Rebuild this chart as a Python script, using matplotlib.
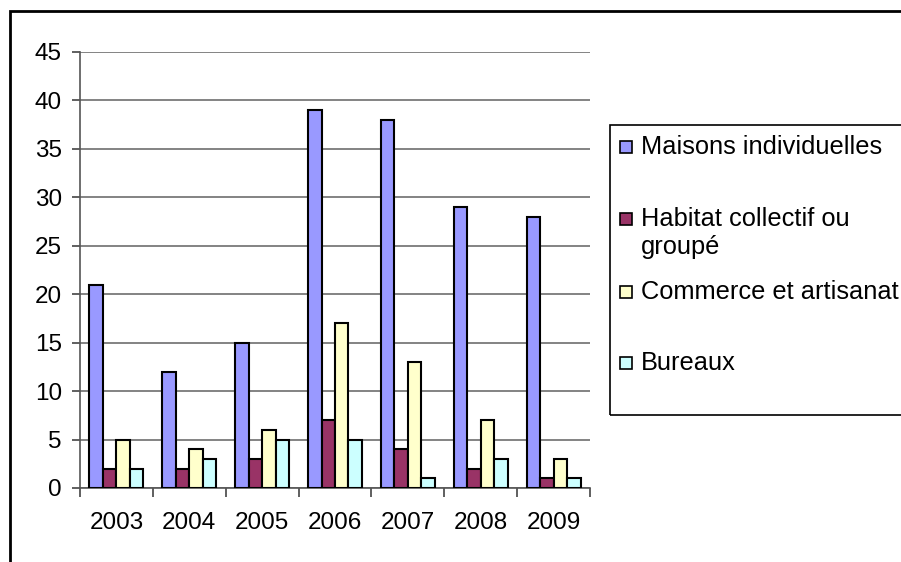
import matplotlib.pyplot as plt
import numpy as np
from matplotlib.patches import Rectangle

plt.rcParams['font.family'] = ['Liberation Sans', 'DejaVu Sans']

years = ['2003', '2004', '2005', '2006', '2007', '2008', '2009']
maisons = [21, 12, 15, 39, 38, 29, 28]
habitat = [2, 2, 3, 7, 4, 2, 1]
commerce = [5, 4, 6, 17, 13, 7, 3]
bureaux = [2, 3, 5, 5, 1, 3, 1]

series = [maisons, habitat, commerce, bureaux]
labels = ['Maisons individuelles', 'Habitat collectif ou', 'Commerce et artisanat',
          'Bureaux']
colors = ['#9999FF', '#993366', '#FFFFCC', '#CCFFFF']

W, H = 901, 562
fs = 17.5
fig = plt.figure(figsize=(W / 100, H / 100), dpi=100)

# outer chart frame
fig.patches.append(Rectangle((10 / W, -0.1), 1.2, (H - 11) / H + 0.1,
                             transform=fig.transFigure, fill=False,
                             edgecolor='black', lw=2))

ax = fig.add_axes([80 / W, (H - 488) / H, (590 - 80) / W, (488 - 52) / H])

x = np.arange(len(years))
w = 0.185
for k, (vals, c) in enumerate(zip(series, colors)):
    ax.bar(x + (k - 1.5) * w, vals, w, color=c, edgecolor='black', lw=1.5,
           zorder=3)

ax.set_xlim(-0.5, len(years) - 0.5)
ax.set_ylim(0, 45)
ax.set_yticks(range(0, 46, 5))
ax.yaxis.grid(True, color='#6e6e6e', lw=1.2, zorder=0)

ax.set_xticks(x)
ax.set_xticklabels(years)
ax.set_xticks(np.arange(-0.5, len(years), 1), minor=True)
ax.tick_params(axis='x', which='major', length=0, pad=17, labelsize=fs)
ax.tick_params(axis='x', which='minor', length=6.5, width=1.2, color='#444444')
ax.tick_params(axis='y', length=6, width=1.2, color='#444444', pad=7,
               labelsize=fs)

for s in ['top', 'right']:
    ax.spines[s].set_visible(False)
for s in ['left', 'bottom']:
    ax.spines[s].set_color('#555555')
    ax.spines[s].set_linewidth(1.2)

# legend box
fig.patches.append(Rectangle((610 / W, (H - 415) / H), 0.5, (415 - 125) / H,
                             transform=fig.transFigure, fill=False,
                             edgecolor='black', lw=1.2))
lfs = 18.3
entry_y = [147, 219, 292, 363]
for lab, c, yy in zip(labels, colors, entry_y):
    fig.patches.append(Rectangle((620 / W, (H - yy - 6) / H), 12 / W, 12 / H,
                                 transform=fig.transFigure, facecolor=c,
                                 edgecolor='black', lw=1.2))
    fig.text(641 / W, (H - yy) / H, lab, fontsize=lfs, va='center', ha='left')
fig.text(641 / W, (H - 247) / H, 'groupé', fontsize=lfs, va='center', ha='left')

plt.savefig('out.png', dpi=100)
